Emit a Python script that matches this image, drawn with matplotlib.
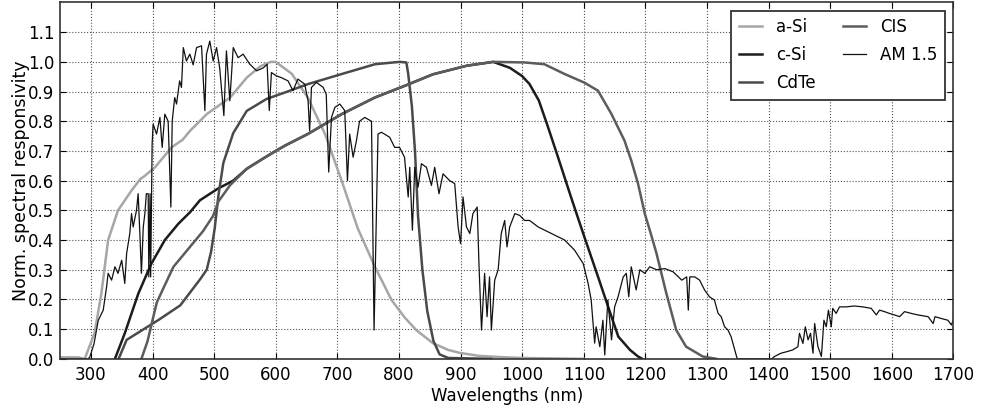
import matplotlib
matplotlib.use("Agg")
import matplotlib.pyplot as plt

# ---------------- data ----------------
asi_wl = [250, 280, 290, 306, 317, 328, 344, 366, 380, 388, 404, 431, 449, 461, 488, 526, 553,
          575, 592, 600, 626, 652, 680, 707, 733, 761, 788, 809, 828, 855, 880, 899, 930, 964,
          1000, 1100]
asi_val = [0.005, 0.005, 0.0, 0.087, 0.22, 0.40, 0.50, 0.567, 0.605, 0.617, 0.645, 0.712, 0.738,
           0.768, 0.824, 0.88, 0.947, 0.985, 1.0, 1.0, 0.96, 0.88, 0.757, 0.60, 0.44, 0.31, 0.198,
           0.14, 0.097, 0.053, 0.03, 0.02, 0.01, 0.006, 0.003, 0.0]

csi_wl = [339, 355, 377, 398, 420, 442, 461, 477, 506, 531, 553, 580, 600, 615, 652, 707, 761,
          809, 855, 910, 953, 980, 1000, 1012, 1027, 1042, 1058, 1080, 1101, 1123, 1142, 1156,
          1175, 1188, 1195]
csi_val = [0.0, 0.086, 0.22, 0.32, 0.40, 0.455, 0.494, 0.534, 0.573, 0.60, 0.64, 0.675, 0.70,
           0.718, 0.757, 0.824, 0.88, 0.919, 0.958, 0.987, 1.0, 0.98, 0.952, 0.925, 0.87, 0.78,
           0.68, 0.54, 0.41, 0.277, 0.16, 0.075, 0.03, 0.008, 0.0]

cdte_wl = [345, 358, 409, 445, 478, 488, 495, 501, 507, 515, 531, 553, 585, 615, 652, 707, 761,
           801, 812, 815, 821, 826, 831, 838, 846, 856, 866, 880, 950]
cdte_val = [0.0, 0.064, 0.13, 0.18, 0.27, 0.30, 0.36, 0.44, 0.55, 0.66, 0.76, 0.835, 0.875, 0.897,
            0.925, 0.959, 0.992, 1.0, 0.998, 0.96, 0.85, 0.70, 0.48, 0.30, 0.16, 0.06, 0.015,
            0.003, 0.0]

cis_wl = [382, 392, 400, 407, 417, 434, 450, 466, 482, 498, 507, 526, 553, 580, 600, 615, 652,
          707, 761, 809, 855, 910, 953, 1004, 1036, 1069, 1101, 1123, 1145, 1166, 1177, 1188,
          1199, 1209, 1218, 1234, 1250, 1266, 1293, 1315]
cis_val = [0.0, 0.06, 0.13, 0.19, 0.235, 0.31, 0.35, 0.39, 0.43, 0.48, 0.53, 0.585, 0.64, 0.675,
           0.70, 0.718, 0.757, 0.824, 0.88, 0.919, 0.958, 0.987, 1.0, 0.998, 0.992, 0.959, 0.93,
           0.903, 0.824, 0.735, 0.668, 0.59, 0.489, 0.42, 0.355, 0.22, 0.097, 0.041, 0.008, 0.0]

am_wl = [250, 295, 298, 305, 312, 320, 325.5, 328, 333.6, 339, 344, 350, 355, 358, 363, 366,
         368.6, 374, 376.7, 379.5, 382, 385, 387.6, 390, 393, 394, 396, 397, 399.4, 401, 406.6,
         412, 415.7, 420, 425.4, 429.8, 432, 436, 439, 444, 447, 450, 455, 460.6, 466, 471.5,
         479.6, 485, 487.6, 493, 498.5, 504, 509, 515.8, 520, 525.5, 531, 539, 547, 558, 569,
         580, 586, 589.5, 593, 601, 609, 620, 628, 636, 647, 652.5, 655, 658, 666, 677, 682, 686,
         690.5, 696, 704, 712, 716.4, 720, 725.6, 731, 736, 744.5, 755.4, 759.6, 763.5, 766,
         771.6, 785, 793, 801, 809, 815, 817.5, 821.8, 825.6, 831, 836.5, 844.6, 852.7, 858,
         865, 871.5, 882.4, 890.5, 896, 900, 904, 909.6, 915, 920, 927, 930, 934, 939, 943, 947,
         950, 955.4, 961, 966, 971.6, 975.4, 979.7, 988, 996, 1004, 1012, 1026, 1047.6, 1069,
         1085, 1099, 1107, 1112, 1117.6, 1120, 1126, 1131, 1134, 1139, 1145, 1150, 1155.6, 1164,
         1169, 1173, 1177, 1185, 1191, 1199, 1207, 1218, 1231.6, 1245, 1259, 1267, 1269.6, 1272,
         1280, 1288, 1296, 1304, 1312, 1318, 1323, 1328.5, 1334, 1339, 1345, 1349, 1405, 1409.6,
         1420, 1431, 1439, 1447.5, 1450, 1455.7, 1459.5, 1464, 1468, 1472, 1474.7, 1480, 1485.6,
         1489.7, 1493.5, 1497, 1501.6, 1504, 1509.6, 1515, 1526, 1539, 1553, 1566.5, 1574.7,
         1580, 1588, 1596, 1604, 1612.6, 1620.6, 1631.5, 1642, 1658.8, 1667, 1670, 1680, 1691,
         1696.6, 1700]
am_val = [0.0, 0.0, 0.005, 0.05, 0.13, 0.164, 0.243, 0.288, 0.265, 0.31, 0.288, 0.332, 0.254,
          0.355, 0.42, 0.489, 0.444, 0.50, 0.556, 0.42, 0.288, 0.444, 0.489, 0.556, 0.556, 0.276,
          0.556, 0.276, 0.724, 0.79, 0.757, 0.813, 0.712, 0.824, 0.80, 0.511, 0.80, 0.88, 0.858,
          0.936, 0.914, 1.048, 1.003, 1.026, 0.99, 1.048, 1.054, 0.836, 1.026, 1.07, 1.003, 1.048,
          0.98, 0.819, 1.037, 0.869, 1.048, 1.014, 1.026, 0.992, 0.97, 0.98, 0.992, 0.836, 0.964,
          0.953, 0.947, 0.936, 0.903, 0.942, 0.925, 0.869, 0.768, 0.914, 0.931, 0.914, 0.891,
          0.629, 0.813, 0.847, 0.858, 0.836, 0.60, 0.757, 0.679, 0.735, 0.80, 0.813, 0.80, 0.097,
          0.489, 0.757, 0.763, 0.746, 0.712, 0.712, 0.679, 0.545, 0.645, 0.433, 0.645, 0.578,
          0.657, 0.645, 0.584, 0.645, 0.556, 0.623, 0.60, 0.59, 0.444, 0.388, 0.545, 0.444,
          0.422, 0.489, 0.511, 0.31, 0.097, 0.288, 0.142, 0.276, 0.097, 0.265, 0.30, 0.422,
          0.466, 0.377, 0.444, 0.489, 0.483, 0.466, 0.466, 0.444, 0.422, 0.40, 0.366, 0.321,
          0.254, 0.198, 0.053, 0.108, 0.041, 0.13, 0.013, 0.198, 0.064, 0.175, 0.209, 0.276,
          0.288, 0.209, 0.31, 0.232, 0.30, 0.288, 0.31, 0.30, 0.304, 0.293, 0.265, 0.276, 0.164,
          0.276, 0.276, 0.265, 0.232, 0.209, 0.198, 0.153, 0.142, 0.108, 0.097, 0.075, 0.03, 0.0,
          0.0, 0.008, 0.019, 0.025, 0.03, 0.041, 0.086, 0.052, 0.108, 0.064, 0.086, 0.019, 0.119,
          0.041, 0.008, 0.13, 0.108, 0.164, 0.108, 0.17, 0.153, 0.175, 0.175, 0.178, 0.175, 0.17,
          0.148, 0.164, 0.159, 0.153, 0.148, 0.142, 0.159, 0.153, 0.148, 0.142, 0.119, 0.142,
          0.136, 0.13, 0.114, 0.133]

labels = ["a-Si", "c-Si", "CdTe", "CIS", "AM 1.5"]
x_ticks = list(range(300, 1701, 100))
y_ticks = [0.0, 0.1, 0.2, 0.3, 0.4, 0.5, 0.6, 0.7, 0.8, 0.9, 1.0, 1.1]

# ---------------- style ----------------
plt.rcParams["font.family"] = ["DejaVu Sans"]
plt.rcParams["font.size"] = 12
plt.rcParams["xtick.direction"] = "in"
plt.rcParams["ytick.direction"] = "in"
plt.rcParams["xtick.top"] = True
plt.rcParams["ytick.right"] = True
plt.rcParams["xtick.major.size"] = 4
plt.rcParams["ytick.major.size"] = 4

fig = plt.figure(figsize=(9.85, 4.12), dpi=100, facecolor="white")
ax = fig.add_axes([0.061, 0.129, 0.907, 0.865])

ax.plot(asi_wl, asi_val, color="#a6a6a6", lw=1.8, label=labels[0])
ax.plot(csi_wl, csi_val, color="#1c1c1c", lw=1.8, label=labels[1])
ax.plot(cdte_wl, cdte_val, color="#4a4a4a", lw=1.8, label=labels[2])
ax.plot(cis_wl, cis_val, color="#5c5c5c", lw=1.8, label=labels[3])
ax.plot(am_wl, am_val, color="#111111", lw=0.9, label=labels[4])

ax.set_xlim(250, 1700)
ax.set_ylim(0, 1.2)
ax.set_xticks(x_ticks)
ax.set_yticks(y_ticks)
ax.set_yticklabels([f"{v:.1f}" for v in y_ticks])
ax.tick_params(axis="x", pad=5)
ax.tick_params(axis="y", pad=4)
ax.grid(True, linestyle=":", color="#555555", linewidth=0.8)
for s in ax.spines.values():
    s.set_color("#333333")
    s.set_linewidth(1.2)

ax.set_xlabel("Wavelengths (nm)", labelpad=2)
ax.set_ylabel("Norm. spectral responsivity", fontsize=12.5)
ax.yaxis.set_label_coords(-0.034, 0.5)

leg = ax.legend(loc="upper right", ncol=2, fancybox=False, framealpha=1,
                edgecolor="#333333", handlelength=1.4, handletextpad=0.85,
                columnspacing=1.6, labelspacing=0.6, borderaxespad=0.5,
                borderpad=0.45)
leg.get_frame().set_linewidth(1.3)

fig.savefig("out.png", dpi=100, facecolor="white")
